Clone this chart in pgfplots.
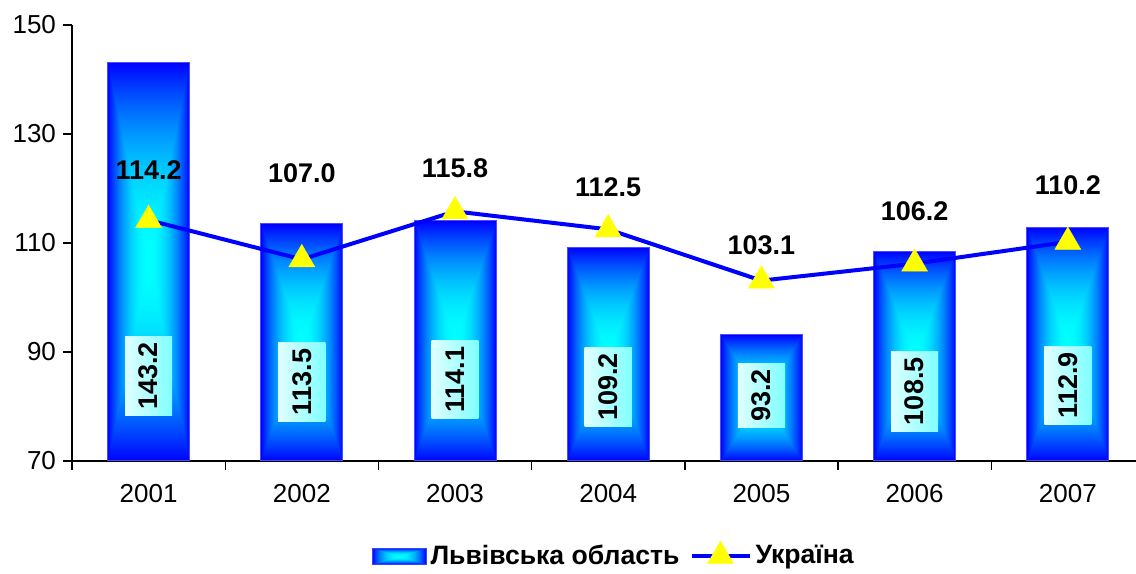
\documentclass[border=0pt]{standalone}
\usepackage{pgfplots}
\usepackage{pgfplotstable}
\pgfplotsset{compat=1.18}
\usepackage{fontspec}
\setmainfont{Liberation Sans}
\pgfdeclarefunctionalshading{barshade}{\pgfpoint{-50bp}{-50bp}}{\pgfpoint{50bp}{50bp}}{}{%
abs 25 div exch abs 25 div 2 copy lt {exch} if pop dup 1 gt {pop 1} if dup mul 1 exch sub 0 exch 1}
\definecolor{lineblue}{RGB}{0,0,255}
\definecolor{markyellow}{RGB}{255,255,0}
\pgfplotsset{
  linelegend/.style={legend image code/.code={\draw[mark repeat=2, mark phase=2, ##1] plot coordinates {(0pt,0pt) (14.5pt,0pt) (29pt,0pt)};}},
  barlegend/.style={legend image code/.code={\path[shade, shading=barshade, draw=blue!75, line width=0.5pt] (0pt,-4pt) rectangle (27pt,4pt);}},
  onebar/.style={ybar, bar width=41pt, draw=blue!70, line width=0.5pt, shade, shading=barshade, barlegend},
}

\pgfplotstableread{
x ukr
0 114.2
1 107.0
2 115.8
3 112.5
4 103.1
5 106.2
6 110.2
}\data

\pgfplotstableread{
x y lab
0 123.4 114.2
1 122.8 107.0
2 123.8 115.8
3 120.3 112.5
4 109.6 103.1
5 115.9 106.2
6 120.6 110.2
}\toplabels

\pgfplotstableread{
x y lab
0 85.6 143.2
1 84.5 113.5
2 84.9 114.1
3 83.6 109.2
4 82.0 93.2
5 82.8 108.5
6 83.9 112.9
}\barlabels

\begin{document}
\begin{tikzpicture}
\begin{axis}[
  scale only axis,
  width=532pt, height=218pt,
  xmin=-0.5, xmax=6.445,
  ymin=70, ymax=150,
  axis x line*=bottom,
  axis y line*=left,
  axis line style={black, line width=0.7pt},
  ytick={70,90,110,130,150},
  xtick={-0.5,0.5,1.5,2.5,3.5,4.5,5.5},
  xticklabels={},
  extra x ticks={0,1,2,3,4,5,6},
  extra x tick labels={2001,2002,2003,2004,2005,2006,2007},
  extra x tick style={major tick length=0pt},
  tick align=outside,
  major tick length=4.5pt,
  tick style={black, line width=0.7pt},
  /pgf/number format/assume math mode=true,
  ticklabel style={font=\fontsize{13}{15}\selectfont},
  xticklabel style={yshift=-8pt},
  legend style={at={(0.51,-0.218)}, anchor=center, draw=none, fill=none,
    legend columns=2, font=\fontsize{13.3}{15}\selectfont\bfseries,
    /tikz/every even column/.append style={column sep=3pt}},
  legend cell align=left,
  clip=false,
]
\addplot[onebar] coordinates {(0,143.2)};
\addlegendentry{Львівська область}
\addplot[onebar, forget plot] coordinates {(1,113.5)};
\addplot[onebar, forget plot] coordinates {(2,114.1)};
\addplot[onebar, forget plot] coordinates {(3,109.2)};
\addplot[onebar, forget plot] coordinates {(4,93.2)};
\addplot[onebar, forget plot] coordinates {(5,108.5)};
\addplot[onebar, forget plot] coordinates {(6,112.9)};

\addplot[lineblue, line width=2pt, mark=triangle*, mark size=7.5pt,
  mark options={fill=markyellow, draw=markyellow, line width=0.2pt, solid}, linelegend]
  table[x=x, y=ukr] {\data};
\addlegendentry{Україна}

\addplot[draw=none, mark=none, forget plot, nodes near coords, point meta=explicit symbolic,
  every node near coord/.style={anchor=center, font=\fontsize{13.5}{16}\selectfont\bfseries, black}]
  table[x=x, y=y, meta=lab] {\toplabels};

\addplot[draw=none, mark=none, forget plot, nodes near coords, point meta=explicit symbolic,
  every node near coord/.style={anchor=center, rotate=90, font=\fontsize{13.5}{16}\selectfont\bfseries, black,
     left color=cyan!12, right color=cyan!50, inner xsep=3pt, inner ysep=7pt}]
  table[x=x, y=y, meta=lab] {\barlabels};

\coordinate (bbl) at (rel axis cs:-0.06767,-0.25917);
\coordinate (btr) at (rel axis cs:1,1.05734);
\end{axis}
\pgfresetboundingbox
\path (bbl) rectangle (btr);
\end{tikzpicture}
\end{document}
